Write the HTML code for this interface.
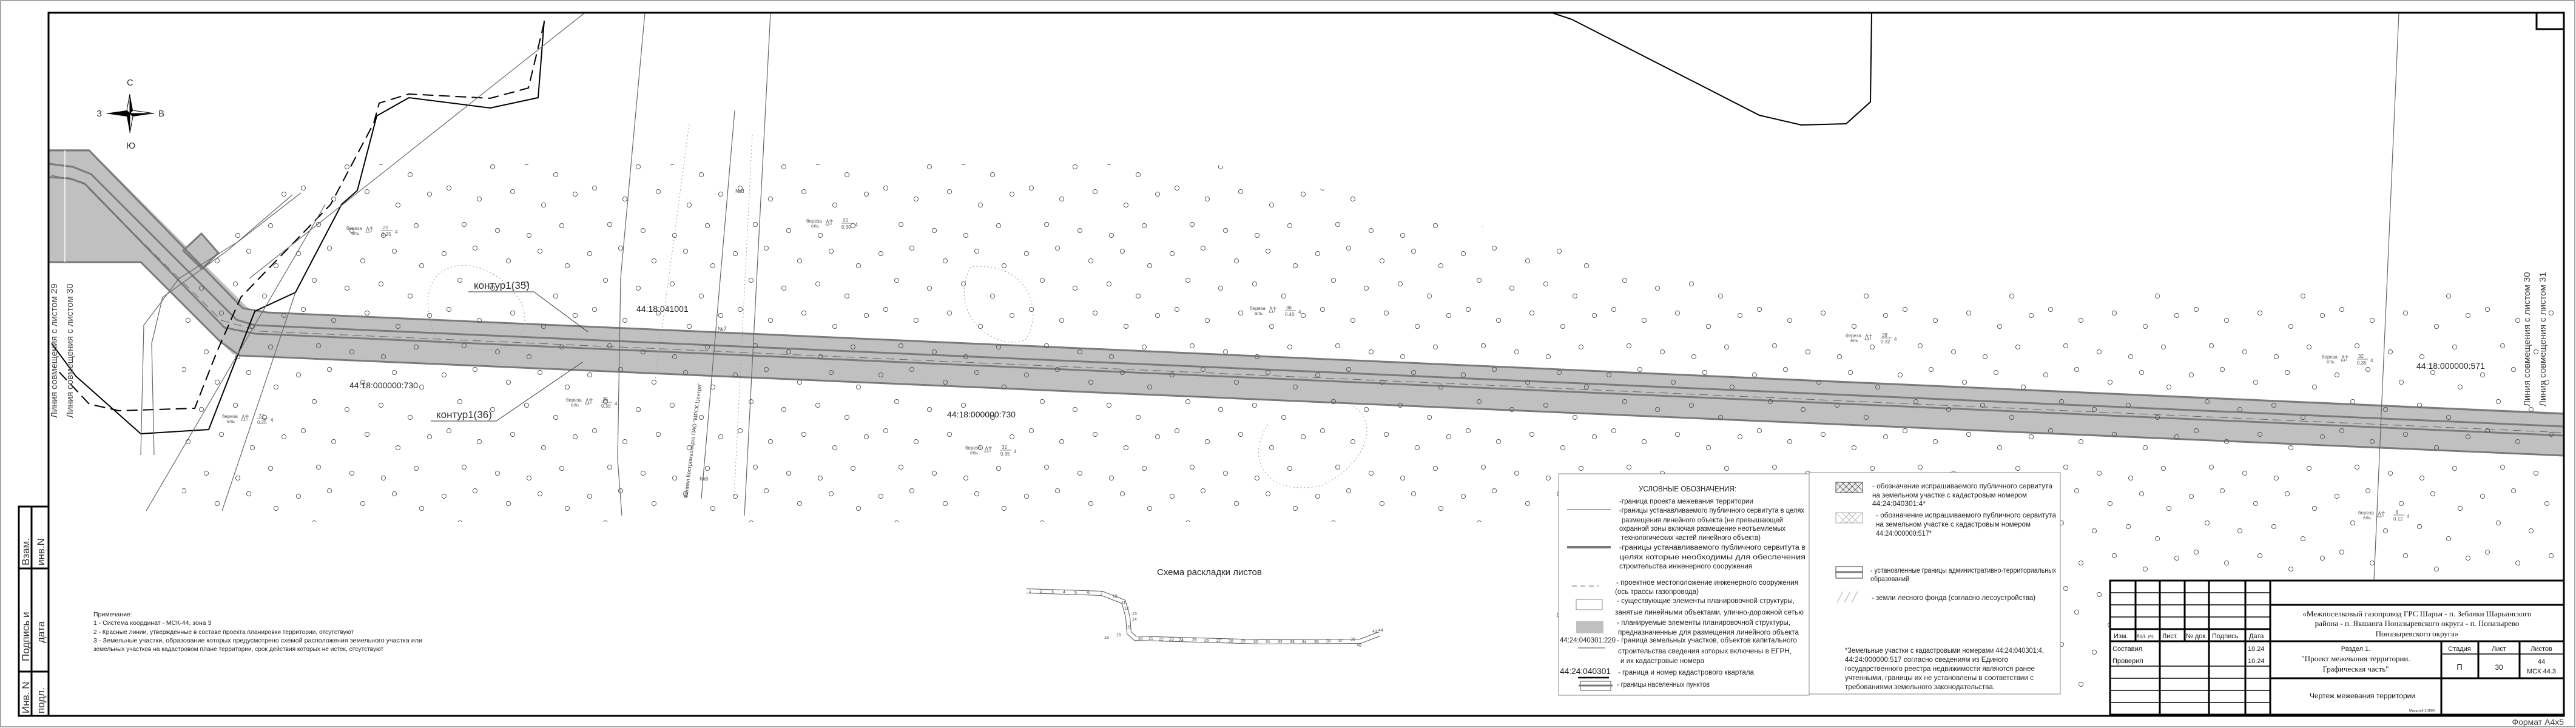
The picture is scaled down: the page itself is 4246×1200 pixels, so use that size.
<!DOCTYPE html>
<html><head><meta charset="utf-8">
<style>
html,body{margin:0;padding:0;background:#fff;}
svg{display:block;}
text{font-family:"Liberation Sans","DejaVu Sans",sans-serif;}
.serif{font-family:"Liberation Serif","DejaVu Serif",serif;}
</style></head>
<body>
<svg xmlns="http://www.w3.org/2000/svg" width="4246" height="1200" viewBox="0 0 4246 1200">
<defs>
<pattern id="tp" x="0" y="0" width="240" height="200" patternUnits="userSpaceOnUse">
<g fill="none" stroke="#555" stroke-width="1">
<circle cx="12" cy="18" r="3.6"/><circle cx="63" cy="9" r="3.6"/><circle cx="118" cy="30" r="3.6"/>
<circle cx="170" cy="14" r="3.6"/><circle cx="215" cy="38" r="3.6"/><circle cx="38" cy="62" r="3.6"/>
<circle cx="92" cy="75" r="3.6"/><circle cx="148" cy="68" r="3.6"/><circle cx="196" cy="88" r="3.6"/>
<circle cx="20" cy="110" r="3.6"/><circle cx="70" cy="128" r="3.6"/><circle cx="125" cy="116" r="3.6"/>
<circle cx="176" cy="138" r="3.6"/><circle cx="228" cy="120" r="3.6"/><circle cx="45" cy="170" r="3.6"/>
<circle cx="100" cy="180" r="3.6"/><circle cx="152" cy="188" r="3.6"/><circle cx="206" cy="172" r="3.6"/>
</g>
</pattern>
</defs>
<rect x="0" y="0" width="4246" height="1200" fill="#fff"/>
<rect x="1" y="1" width="4243" height="1197" fill="none" stroke="#888" stroke-width="1.5"/>

<!-- pipeline band -->
<polygon points="80,246 147,246 414,513 4226,680 4226,752 384,584 234,434 80,434" fill="#c0c0c0"/>
<polygon points="302,413 332,385 360,417 333,443" fill="#c0c0c0" stroke="#7a7a7a" stroke-width="3"/>
<g fill="none" stroke="#7a7a7a" stroke-width="3">
<polyline points="80,248 147,248 400,508 440,515 4226,682"/>
<polyline points="80,270 120,275 150,287 390,527 420,536 4226,703"/>
<polyline points="80,292 115,294 140,303 370,540 420,550 4226,718"/>
<polyline points="80,432 232,432 363,563 395,586 4226,751"/>
</g>
<line x1="107" y1="248" x2="107" y2="432" stroke="#fff" stroke-width="1.5"/>
<polyline points="85,289 135,300 365,528 430,546 4226,713" fill="none" stroke="#666" stroke-width="1" stroke-dasharray="14,8"/>

<!-- trees -->
<polygon points="480,270 2000,270 2900,480 4215,480 4215,1150 2560,1150 2560,860 300,860 300,480" fill="url(#tp)"/>

<!-- boundary lines -->
<g fill="none" stroke="#000" stroke-width="2">
<polyline points="897,34 887,161 808,178 674,161 621,191 589,314 563,337 487,482 420,513 344,708 232,715 125,620 85,566"/>
<polyline points="897,37 871,145 808,162 674,155 625,170 616,203 545,337 397,490 357,581 321,673 196,677 147,666 89,604" stroke-dasharray="18,9"/>
<polyline points="2558,21 2591,32 2900,190 2969,206 3043,204 3083,168 3085,21"/>
</g>
<g fill="none" stroke="#666" stroke-width="1.2">
<line x1="964" y1="21" x2="411" y2="459"/>
<line x1="487" y1="482" x2="366" y2="842"/>
<line x1="536" y1="337" x2="241" y2="842"/>
<polyline points="1063,21 1023,458 1018,757 1025,850"/>
<polyline points="1270,21 1227,850"/>
<polyline points="3954,21 3913,957"/>
<polyline points="1211,182 1156,822"/>
<polyline points="496,318 393,398 295,459 237,536 232,750"/>
<polyline points="482,321 375,413 268,490 250,566 254,750"/>
</g>
<g fill="none" stroke="#999" stroke-width="1" stroke-dasharray="2,4">
<polyline points="1136,205 1080,625"/>
<polyline points="1240,222 1210,820"/>
<path d="M720,560 C660,420 800,400 860,500 C880,560 840,600 720,560"/>
<path d="M1600,440 C1560,520 1640,580 1690,560 C1720,520 1700,430 1600,440"/>
<path d="M2090,700 C2050,760 2090,820 2180,800 C2260,760 2270,690 2230,670"/>
</g>

<!-- map labels -->
<g font-size="17" fill="#333">
<text x="781" y="476">контур1(35)</text>
<text x="719" y="689">контур1(36)</text>
</g>
<g stroke="#333" stroke-width="1" fill="none">
<polyline points="772,481 880,481 969,547"/>
<polyline points="710,694 818,694 960,597"/>
</g>
<g font-size="14" fill="#222">
<text x="1049" y="514">44:18:041001</text>
<text x="576" y="640">44:18:000000:730</text>
<text x="1561" y="688">44:18:000000:730</text>
<text x="3983" y="608">44:18:000000:571</text>
</g>
<g font-size="9" fill="#444">
<text transform="translate(1133,822) rotate(-83)">Филиал Костромаэнерго ПАО "МРСК Центра"</text>
<text x="1212" y="318">№8</text><text x="1183" y="545">№7</text><text x="1153" y="792">№6</text>
</g>

<!-- tree labels -->
<g font-size="8" fill="#555">
<text x="571" y="379">береза</text><text x="579" y="387">ель</text><text x="631" y="378">20</text><text x="629" y="389">0.25</text><text x="651" y="385">4</text>
<text x="1329" y="367">береза</text><text x="1337" y="375">ель</text><text x="1389" y="366">26</text><text x="1387" y="377">0.30</text><text x="1409" y="373">4</text>
<text x="366" y="689">береза</text><text x="374" y="697">ель</text><text x="426" y="688">22</text><text x="424" y="699">0.25</text><text x="446" y="695">4</text>
<text x="933" y="662">береза</text><text x="941" y="670">ель</text><text x="993" y="661">26</text><text x="991" y="672">0.30</text><text x="1013" y="668">4</text>
<text x="2060" y="511">береза</text><text x="2068" y="519">ель</text><text x="2120" y="510">36</text><text x="2118" y="521">0.40</text><text x="2140" y="517">4</text>
<text x="1591" y="741">береза</text><text x="1599" y="749">ель</text><text x="1651" y="740">32</text><text x="1649" y="751">0.35</text><text x="1671" y="747">4</text>
<text x="3042" y="556">береза</text><text x="3050" y="564">ель</text><text x="3102" y="555">28</text><text x="3100" y="566">0.32</text><text x="3122" y="562">4</text>
<text x="3827" y="591">береза</text><text x="3835" y="599">ель</text><text x="3887" y="590">32</text><text x="3885" y="601">0.35</text><text x="3907" y="597">4</text>
<text x="3887" y="848">береза</text><text x="3895" y="856">ель</text><text x="3949" y="847">8</text><text x="3945" y="858">0.12</text><text x="3967" y="854">4</text>
</g>
<g stroke="#555" stroke-width="0.8" fill="none">
<path d="M603,383 l3,-9 l3,9 z M612,383 v-10 M609,376 h6 M629,380 h18"/>
<path d="M1361,371 l3,-9 l3,9 z M1370,371 v-10 M1367,364 h6 M1387,368 h18"/>
<path d="M398,693 l3,-9 l3,9 z M407,693 v-10 M404,686 h6 M424,690 h18"/>
<path d="M965,666 l3,-9 l3,9 z M974,666 v-10 M971,659 h6 M991,663 h18"/>
<path d="M2092,515 l3,-9 l3,9 z M2101,515 v-10 M2098,508 h6 M2118,512 h18"/>
<path d="M1623,745 l3,-9 l3,9 z M1632,745 v-10 M1629,738 h6 M1649,742 h18"/>
<path d="M3074,560 l3,-9 l3,9 z M3083,560 v-10 M3080,553 h6 M3100,557 h18"/>
<path d="M3859,595 l3,-9 l3,9 z M3868,595 v-10 M3865,588 h6 M3885,592 h18"/>
<path d="M3919,852 l3,-9 l3,9 z M3928,852 v-10 M3925,845 h6 M3945,849 h18"/>
</g>

<!-- compass -->
<g transform="translate(214,187)">
<polygon points="0,-32 5,-5 0,0" fill="#000"/><polygon points="0,-32 -5,-5 0,0" fill="#fff" stroke="#000"/>
<polygon points="0,32 -5,5 0,0" fill="#000"/><polygon points="0,32 5,5 0,0" fill="#fff" stroke="#000"/>
<polygon points="-40,0 -5,5 0,0" fill="#000"/><polygon points="-40,0 -5,-5 0,0" fill="#000"/>
<polygon points="40,0 5,-5 0,0" fill="#fff" stroke="#000"/><polygon points="40,0 5,5 0,0" fill="#000"/>
<text x="-5" y="-46" font-size="15" fill="#333">С</text>
<text x="-55" y="5" font-size="15" fill="#333">З</text>
<text x="47" y="5" font-size="15" fill="#333">В</text>
<text x="-6" y="58" font-size="15" fill="#333">Ю</text>
</g>

<g font-size="15" fill="#444">
<text transform="translate(94,689) rotate(-90)">Линия совмещения с листом 29</text>
<text transform="translate(120,689) rotate(-90)">Линия совмещения с листом 30</text>
<text transform="translate(4170,670) rotate(-90)">Линия совмещения с листом 30</text>
<text transform="translate(4196,670) rotate(-90)">Линия совмещения с листом 31</text>
</g>

<!-- frame -->
<rect x="80" y="21" width="4146" height="1159" fill="none" stroke="#000" stroke-width="3"/>
<rect x="4181" y="21" width="45" height="27" fill="none" stroke="#000" stroke-width="3"/>
<g stroke="#000" stroke-width="3" fill="none">
<rect x="31" y="835" width="49" height="345"/>
<line x1="52" y1="835" x2="52" y2="1180"/>
<line x1="31" y1="937" x2="80" y2="937"/>
<line x1="31" y1="1107" x2="80" y2="1107"/>
</g>
<g font-size="17" fill="#333">
<text transform="translate(48,932) rotate(-90)">Взам.</text>
<text transform="translate(73,932) rotate(-90)">инв.N</text>
<text transform="translate(48,1090) rotate(-90)">Подпись и</text>
<text transform="translate(73,1060) rotate(-90)">дата</text>
<text transform="translate(48,1176) rotate(-90)">Инв. N</text>
<text transform="translate(73,1176) rotate(-90)">подл.</text>
</g>

<!-- notes -->
<g font-size="10.5" fill="#222">
<text x="154" y="1016">Примечание:</text>
<text x="154" y="1030">1 - Система координат - МСК-44, зона 3</text>
<text x="154" y="1045" textLength="429" lengthAdjust="spacingAndGlyphs">2 - Красные линии, утвержденные в составе проекта планировки территории, отсутствуют</text>
<text x="154" y="1059" textLength="542" lengthAdjust="spacingAndGlyphs">3 - Земельные участки, образование которых предусмотрено схемой расположения земельного участка или</text>
<text x="154" y="1073" textLength="478" lengthAdjust="spacingAndGlyphs">земельных участков на кадастровом плане территории, срок действия которых не истек, отсутствуют</text>
</g>

<!-- scheme -->
<text x="1907" y="948" font-size="15" fill="#222">Схема раскладки листов</text>
<polyline points="1692,974 1816,978 1852,992 1859,1017 1861,1043 1871,1052 2082,1058 2242,1057 2274,1045" fill="none" stroke="#555" stroke-width="8"/>
<polyline points="1692,974 1816,978 1852,992 1859,1017 1861,1043 1871,1052 2082,1058 2242,1057 2274,1045" fill="none" stroke="#fff" stroke-width="6"/>
<g font-size="7" fill="#444">
<text x="1696" y="977">1</text><text x="1714" y="977">2</text><text x="1733" y="978">3</text><text x="1752" y="978">4</text><text x="1771" y="979">5</text><text x="1792" y="979">6</text><text x="1814" y="980">7</text><text x="1834" y="985">10</text><text x="1848" y="996">11</text><text x="1853" y="1005">12</text><text x="1866" y="1014">13</text><text x="1866" y="1023">14</text><text x="1855" y="1036">15</text><text x="1840" y="1049">16</text><text x="1820" y="1053">18</text>
<text x="1876" y="1055">20</text><text x="1893" y="1055">21</text><text x="1910" y="1056">22</text><text x="1927" y="1056">23</text><text x="1943" y="1057">24</text><text x="1965" y="1057">25</text><text x="1985" y="1058">26</text><text x="2005" y="1058">27</text><text x="2025" y="1059">28</text><text x="2045" y="1059">29</text><text x="2066" y="1060">30</text><text x="2086" y="1060">31</text><text x="2106" y="1060">32</text><text x="2126" y="1060">33</text><text x="2146" y="1060">34</text><text x="2166" y="1060">35</text><text x="2186" y="1059">36</text><text x="2206" y="1058">37</text><text x="2226" y="1056">38</text><text x="2236" y="1066">40</text><text x="2262" y="1043">43</text><text x="2272" y="1041">44</text>
</g>

<!-- legend -->
<g stroke="#888" stroke-width="1" fill="#fff">
<rect x="2569" y="781" width="413" height="365"/>
<rect x="2982" y="779" width="414" height="365"/>
</g>
<g font-size="11.5" fill="#222" lengthAdjust="spacingAndGlyphs">
<text x="2701" y="810" font-size="13" textLength="161" lengthAdjust="spacingAndGlyphs">УСЛОВНЫЕ ОБОЗНАЧЕНИЯ:</text>
<text x="2669" y="830" textLength="221" lengthAdjust="spacingAndGlyphs">-граница проекта межевания территории</text>
<text x="2669" y="845" textLength="305" lengthAdjust="spacingAndGlyphs">-границы устанавливаемого публичного сервитута в целях</text>
<text x="2673" y="861" textLength="266" lengthAdjust="spacingAndGlyphs">размещения линейного объекта (не превышающей</text>
<text x="2669" y="875" textLength="274" lengthAdjust="spacingAndGlyphs">охранной зоны включая размещение неотъемлемых</text>
<text x="2672" y="890" textLength="230" lengthAdjust="spacingAndGlyphs">технологических частей линейного объекта)</text>
<text x="2669" y="906" textLength="307" lengthAdjust="spacingAndGlyphs">-границы устанавливаемого публичного сервитута в</text>
<text x="2669" y="922" textLength="307" lengthAdjust="spacingAndGlyphs">целях которые необходимы для обеспечения</text>
<text x="2669" y="937" textLength="219" lengthAdjust="spacingAndGlyphs">строительства инженерного сооружения</text>
<text x="2664" y="964" textLength="300" lengthAdjust="spacingAndGlyphs">- проектное местоположение инженерного сооружения</text>
<text x="2662" y="979" textLength="138" lengthAdjust="spacingAndGlyphs">(ось трассы газопровода)</text>
<text x="2665" y="994" textLength="293" lengthAdjust="spacingAndGlyphs">- существующие элементы планировочной структуры,</text>
<text x="2662" y="1013" textLength="311" lengthAdjust="spacingAndGlyphs">занятые линейными объектами, улично-дорожной сетью</text>
<text x="2665" y="1030" textLength="286" lengthAdjust="spacingAndGlyphs">- планируемые элементы планировочной структуры,</text>
<text x="2667" y="1046" textLength="298" lengthAdjust="spacingAndGlyphs">предназначенные для размещения линейного объекта</text>
<text x="2571" y="1059" font-size="12" textLength="92" lengthAdjust="spacingAndGlyphs">44:24:040301:220</text>
<text x="2665" y="1059" textLength="297" lengthAdjust="spacingAndGlyphs">- граница земельных участков, объектов капитального</text>
<text x="2667" y="1077" textLength="286" lengthAdjust="spacingAndGlyphs">строительства  сведения которых включены в ЕГРН,</text>
<text x="2671" y="1093" textLength="138" lengthAdjust="spacingAndGlyphs">и их кадастровые номера</text>
<text x="2571" y="1111" font-size="14" textLength="84" lengthAdjust="spacingAndGlyphs">44:24:040301</text>
<text x="2667" y="1112" textLength="224" lengthAdjust="spacingAndGlyphs">- граница и номер кадастрового квартала</text>
<text x="2665" y="1132" textLength="153" lengthAdjust="spacingAndGlyphs">- границы населенных пунктов</text>

<text x="3086" y="805" textLength="297" lengthAdjust="spacingAndGlyphs">- обозначение испрашиваемого публичного сервитута</text>
<text x="3086" y="820" textLength="255" lengthAdjust="spacingAndGlyphs">на земельном участке с кадастровым номером</text>
<text x="3086" y="834" textLength="88" lengthAdjust="spacingAndGlyphs">44:24:040301:4*</text>
<text x="3092" y="853" textLength="297" lengthAdjust="spacingAndGlyphs">- обозначение испрашиваемого публичного сервитута</text>
<text x="3092" y="868" textLength="255" lengthAdjust="spacingAndGlyphs">на земельном участке с кадастровым номером</text>
<text x="3092" y="883" textLength="92" lengthAdjust="spacingAndGlyphs">44:24:000000:517*</text>
<text x="3083" y="944" textLength="306" lengthAdjust="spacingAndGlyphs">- установленные границы административно-территориальных</text>
<text x="3083" y="958" textLength="64" lengthAdjust="spacingAndGlyphs">образований</text>
<text x="3085" y="989" textLength="270" lengthAdjust="spacingAndGlyphs">- земли лесного фонда (согласно лесоустройства)</text>
<text x="3041" y="1076" textLength="328" lengthAdjust="spacingAndGlyphs">*Земельные участки с кадастровыми номерами 44:24:040301:4,</text>
<text x="3041" y="1091" textLength="269" lengthAdjust="spacingAndGlyphs">44:24:000000:517 согласно сведениям из Единого</text>
<text x="3041" y="1106" textLength="313" lengthAdjust="spacingAndGlyphs">государственного реестра недвижимости являются ранее</text>
<text x="3041" y="1121" textLength="311" lengthAdjust="spacingAndGlyphs">учтенными, границы их не установлены в соответствии с</text>
<text x="3041" y="1136" textLength="247" lengthAdjust="spacingAndGlyphs">требованиями земельного законодательства.</text>
</g>
<g>
<line x1="2583" y1="840" x2="2655" y2="840" stroke="#888" stroke-width="1.5"/>
<line x1="2583" y1="902" x2="2655" y2="902" stroke="#777" stroke-width="4"/>
<line x1="2591" y1="966" x2="2636" y2="966" stroke="#666" stroke-width="1" stroke-dasharray="8,6"/>
<rect x="2598" y="988" width="43" height="17" fill="#fff" stroke="#888"/>
<rect x="2598" y="1024" width="45" height="20" fill="#c0c0c0"/>
<line x1="2601" y1="1068" x2="2646" y2="1068" stroke="#444"/>
<line x1="2601" y1="1117" x2="2652" y2="1117" stroke="#000" stroke-width="2.5"/>
<rect x="2605" y="1123" width="50" height="15" fill="#fff" stroke="#555"/>
<line x1="2602" y1="1130" x2="2658" y2="1130" stroke="#777" stroke-width="3"/>
<rect x="3026" y="795" width="44" height="17" fill="#eee" stroke="#444"/>
<path d="M3026,795 l17,17 M3036,795 l17,17 M3046,795 l17,17 M3056,795 l14,14 M3070,795 l-17,17 M3060,795 l-17,17 M3050,795 l-17,17 M3040,795 l-14,14" stroke="#444" stroke-width="0.8"/>
<rect x="3026" y="845" width="44" height="17" fill="#fff" stroke="#aaa"/>
<path d="M3026,845 l17,17 M3036,845 l17,17 M3046,845 l17,17 M3070,845 l-17,17 M3060,845 l-17,17 M3050,845 l-17,17" stroke="#aaa" stroke-width="0.8"/>
<rect x="3026" y="934" width="44" height="19" fill="#fff" stroke="#333"/>
<line x1="3026" y1="943" x2="3070" y2="943" stroke="#777" stroke-width="3"/>
<path d="M3028,993 l10,-18 M3040,993 l10,-18 M3052,993 l10,-18" stroke="#aaa"/>
</g>

<!-- title block -->
<g stroke="#000" fill="none">
<rect x="3478" y="957" width="748" height="221" stroke-width="3" fill="#fff"/>
<g stroke-width="1.5">
<line x1="3478" y1="977" x2="3742" y2="977"/><line x1="3478" y1="997" x2="3742" y2="997"/>
<line x1="3478" y1="1017" x2="3742" y2="1017"/>
<line x1="3478" y1="1098" x2="3742" y2="1098"/><line x1="3478" y1="1118" x2="3742" y2="1118"/>
<line x1="3478" y1="1138" x2="3742" y2="1138"/><line x1="3478" y1="1158" x2="3742" y2="1158"/>
<line x1="4024" y1="1078" x2="4226" y2="1078"/>
</g>
<g stroke-width="3">
<line x1="3478" y1="1037" x2="3742" y2="1037"/><line x1="3478" y1="1057" x2="4226" y2="1057"/>
<line x1="3742" y1="997" x2="4226" y2="997"/><line x1="3742" y1="1118" x2="4226" y2="1118"/>
<line x1="3520" y1="957" x2="3520" y2="1057"/><line x1="3601" y1="957" x2="3601" y2="1057"/>
<line x1="3560" y1="957" x2="3560" y2="1178"/><line x1="3641" y1="957" x2="3641" y2="1178"/>
<line x1="3701" y1="957" x2="3701" y2="1178"/><line x1="3742" y1="957" x2="3742" y2="1178"/>
<line x1="4024" y1="1057" x2="4024" y2="1178"/><line x1="4085" y1="1057" x2="4085" y2="1118"/>
<line x1="4153" y1="1057" x2="4153" y2="1118"/>
</g>
</g>
<g font-size="11" fill="#111">
<text x="3484" y="1052">Изм.</text>
<text x="3522" y="1051" font-size="8">Кол. уч.</text>
<text x="3564" y="1052">Лист.</text>
<text x="3603" y="1052">№ док.</text>
<text x="3646" y="1052">Подпись</text>
<text x="3707" y="1052">Дата</text>
<text x="3482" y="1073">Составил</text>
<text x="3482" y="1093">Проверил</text>
<text x="3705" y="1073">10.24</text>
<text x="3705" y="1093">10.24</text>
<text x="3883" y="1073" text-anchor="middle">Раздел 1.</text>
<text x="4054" y="1073" text-anchor="middle">Стадия</text>
<text x="4119" y="1073" text-anchor="middle">Лист</text>
<text x="4189" y="1073" text-anchor="middle">Листов</text>
<text x="4054" y="1104" text-anchor="middle" font-size="13">П</text>
<text x="4119" y="1104" text-anchor="middle" font-size="12">30</text>
<text x="4189" y="1094" text-anchor="middle">44</text>
<text x="4189" y="1110" text-anchor="middle">МСК 44.3</text>
<text x="3894" y="1151" text-anchor="middle" font-size="12">Чертеж межевания территории</text>
<text x="3992" y="1173" text-anchor="middle" font-size="5.5">Масштаб 1:1000</text>
</g>
<g font-size="13" fill="#111" text-anchor="middle">
<text class="serif" x="3984" y="1016">«Межпоселковый газопровод ГРС Шарья - п. Зебляки Шарьинского</text>
<text class="serif" x="3984" y="1032">района - п. Якшанга Поназыревского округа - п. Поназырево</text>
<text class="serif" x="3984" y="1049">Поназыревского округа»</text>
<text class="serif" x="3883" y="1090">"Проект межевания территории.</text>
<text class="serif" x="3883" y="1107">Графическая часть"</text>
</g>
<text x="4226" y="1195" text-anchor="end" font-size="14" fill="#444">Формат А4х5</text>
</svg>
</body></html>
